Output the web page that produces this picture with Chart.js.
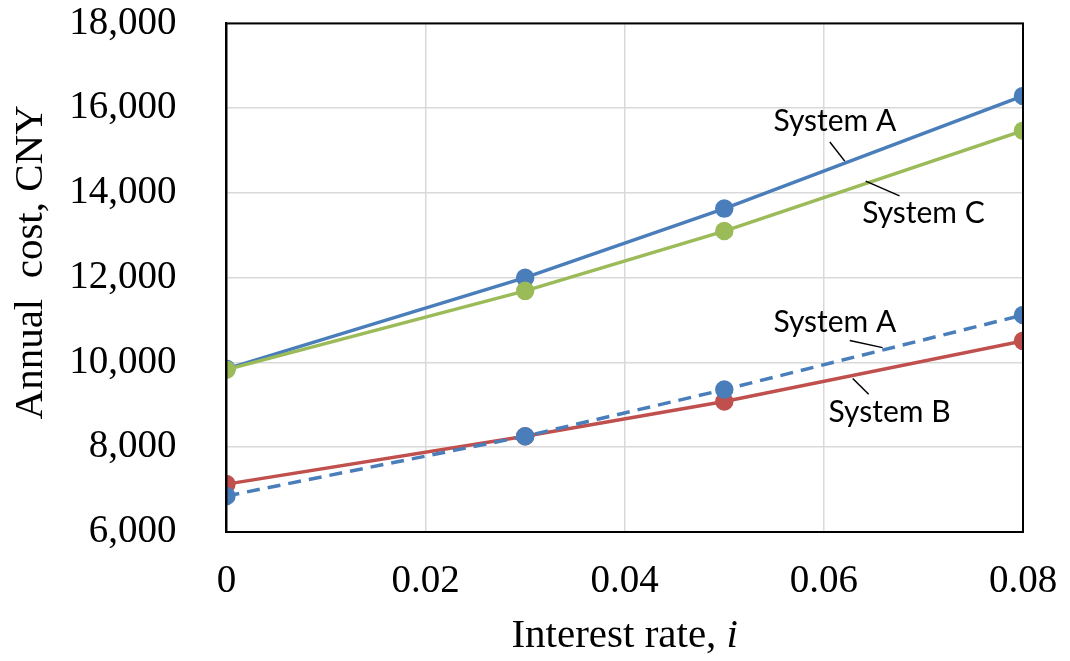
<!DOCTYPE html>
<html>
<head>
<meta charset="utf-8">
<script src="https://cdn.jsdelivr.net/npm/chart.js@4.4.1/dist/chart.umd.min.js"></script>
<style>
  html, body { margin: 0; padding: 0; background: #fff; }
  #wrap { width: 1070px; height: 661px; }
</style>
</head>
<body>
<div id="wrap"><canvas id="costChart"></canvas></div>
<script>
// ===== Data =====
const rates = [0, 0.03, 0.05, 0.08];
const systemA = [9850, 12000, 13630, 16290];
const systemC = [9830, 11690, 13100, 15470];
const systemADashed = [6850, 8260, 9360, 11120];
const systemB = [7130, 8260, 9080, 10510];
const yTicks = [6000, 8000, 10000, 12000, 14000, 16000, 18000];
const xTicks = [0, 0.02, 0.04, 0.06, 0.08];

// callout labels (data coordinates) and their leader lines
const labelText = ['System A', 'System C', 'System A', 'System B'];
const labelX = [0.0611, 0.0700, 0.0611, 0.0666];
const labelY = [15700, 13530, 10940, 8820];
const leaderFrom = [[0.0606, 15200], [0.0642, 14280], [0.0626, 10520], [0.0629, 9620]];
const leaderTo = [[0.0621, 14750], [0.0676, 13930], [0.0659, 10350], [0.0645, 9250]];

const toPoints = (ys) => ys.map((y, i) => ({ x: rates[i], y: y }));

const serif = '"Liberation Serif", "Times New Roman", serif';

// ===== Plugins =====
const frameBox = {
  id: 'frameBox',
  afterDatasetsDraw(chart) {
    const { ctx, chartArea: a } = chart;
    ctx.save();
    ctx.strokeStyle = '#000';
    ctx.lineWidth = 2;
    ctx.strokeRect(a.left, a.top, a.right - a.left, a.bottom - a.top);
    ctx.restore();
  }
};

const callouts = {
  id: 'callouts',
  afterDatasetsDraw(chart) {
    const { ctx, scales: { x, y } } = chart;
    ctx.save();
    ctx.strokeStyle = '#000';
    ctx.lineWidth = 1.5;
    leaderFrom.forEach((p, i) => {
      ctx.beginPath();
      ctx.moveTo(x.getPixelForValue(p[0]), y.getPixelForValue(p[1]));
      ctx.lineTo(x.getPixelForValue(leaderTo[i][0]), y.getPixelForValue(leaderTo[i][1]));
      ctx.stroke();
    });
    ctx.fillStyle = '#000';
    ctx.font = '30px Lato, "Liberation Sans", sans-serif';
    ctx.textAlign = 'center';
    ctx.textBaseline = 'middle';
    labelText.forEach((t, i) => {
      ctx.fillText(t, x.getPixelForValue(labelX[i]), y.getPixelForValue(labelY[i]));
    });
    ctx.restore();
  }
};

// x title with an italic "i" (the axis title itself is kept transparent to hold the space)
const xTitle = {
  id: 'xTitle',
  afterDraw(chart) {
    const { ctx, chartArea: a, scales: { x } } = chart;
    const main = 'Interest rate, ';
    const ital = 'i';
    ctx.save();
    ctx.fillStyle = '#000';
    ctx.textBaseline = 'middle';
    ctx.font = '41px ' + serif;
    const w1 = ctx.measureText(main).width;
    ctx.font = 'italic 41px ' + serif;
    const w2 = ctx.measureText(ital).width;
    const cy = x.bottom - 41 * 1.2 / 2;
    const sx = (a.left + a.right) / 2 - (w1 + w2) / 2;
    ctx.textAlign = 'left';
    ctx.font = '41px ' + serif;
    ctx.fillText(main, sx, cy);
    ctx.font = 'italic 41px ' + serif;
    ctx.fillText(ital, sx + w1, cy);
    ctx.restore();
  }
};

// ===== Annual Cost Chart =====
const ctx = document.getElementById('costChart').getContext('2d');
const lineStyle = { borderWidth: 3.5, pointRadius: 7.5, tension: 0 };
const costChart = new Chart(ctx, {
  type: 'line',
  data: {
    datasets: [
      Object.assign({
        label: 'System A (dashed)',
        data: toPoints(systemADashed),
        borderColor: '#4a7ebb',
        backgroundColor: '#4a7ebb',
        borderDash: [13, 8]
      }, lineStyle),
      Object.assign({
        label: 'System B',
        data: toPoints(systemB),
        borderColor: '#c0504d',
        backgroundColor: '#c0504d'
      }, lineStyle),
      Object.assign({
        label: 'System C',
        data: toPoints(systemC),
        borderColor: '#9bbb59',
        backgroundColor: '#9bbb59'
      }, lineStyle),
      Object.assign({
        label: 'System A',
        data: toPoints(systemA),
        borderColor: '#4a7ebb',
        backgroundColor: '#4a7ebb'
      }, lineStyle)
    ]
  },
  options: {
    responsive: true,
    maintainAspectRatio: false,
    animation: false,
    layout: { padding: { left: 4, right: 47, top: 0, bottom: 0 } },
    plugins: {
      legend: { display: false },
      tooltip: { enabled: false }
    },
    scales: {
      x: {
        type: 'linear',
        min: 0,
        max: 0.08,
        afterBuildTicks: (axis) => { axis.ticks = xTicks.map(v => ({ value: v })); },
        ticks: {
          color: '#000',
          font: { family: serif, size: 39 },
          padding: 0,
          callback: (v) => (v === 0 ? '0' : v.toFixed(2))
        },
        grid: { color: '#d9d9d9', lineWidth: 1.5, drawTicks: true, tickLength: 26, tickColor: 'rgba(0,0,0,0)' },
        border: { color: '#000', width: 2 },
        title: {
          display: true,
          text: 'Interest rate, i',
          color: 'rgba(0,0,0,0)',
          font: { family: serif, size: 41 },
          padding: { top: 7, bottom: 0 }
        }
      },
      y: {
        min: 6000,
        max: 18000,
        afterBuildTicks: (axis) => { axis.ticks = yTicks.map(v => ({ value: v })); },
        ticks: {
          color: '#000',
          font: { family: serif, size: 39 },
          padding: 0,
          callback: (v) => v.toLocaleString('en-US')
        },
        grid: { color: '#d9d9d9', lineWidth: 1.5, drawTicks: true, tickLength: 50, tickColor: 'rgba(0,0,0,0)' },
        border: { color: '#000', width: 2 },
        title: {
          display: true,
          text: '   Annual  cost, CNY',
          color: '#000',
          font: { family: serif, size: 41 },
          padding: { top: 3, bottom: 13 }
        }
      }
    }
  },
  plugins: [frameBox, callouts, xTitle]
});
</script>
</body>
</html>
